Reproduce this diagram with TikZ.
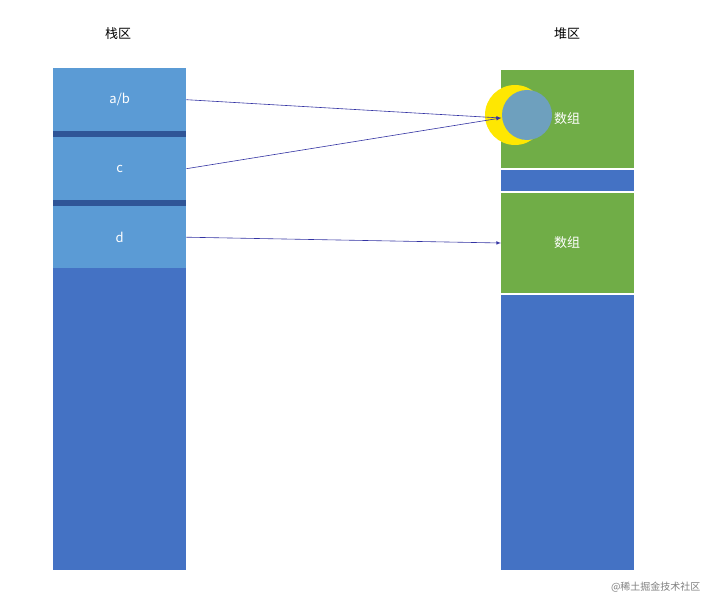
\documentclass[tikz,border=0pt]{standalone}
\usepackage{fontspec}
\setmainfont{Liberation Sans}
\newfontfamily\cjk{Noto Sans CJK SC}
\definecolor{dblue}{RGB}{68,114,196}
\definecolor{sep}{RGB}{47,85,151}
\definecolor{lblue}{RGB}{91,155,213}
\definecolor{gr}{RGB}{112,173,71}
\definecolor{cur}{RGB}{110,160,190}
\begin{document}
\begin{tikzpicture}[x=1pt,y=-1pt,
  cell/.style={fill=#1,draw=none,inner sep=0pt,anchor=north west},
  lbl/.style={text=white,font=\cjk\fontsize{13}{15}\selectfont},
  arr/.style={draw=blue!55!black!80,-latex,line width=0.6pt}]
\useasboundingbox (0,0) rectangle (708,601);
\fill[white] (0,0) rectangle (708,601);
\node[font=\cjk\fontsize{13}{15}\selectfont] (sl) at (118,34) {栈区};
\node[font=\cjk\fontsize{13}{15}\selectfont] (hl) at (567,34) {堆区};
% stack
\fill[dblue] (53,68) rectangle (186,570);
\fill[sep] (53,131) rectangle (186,137);
\fill[sep] (53,200) rectangle (186,206);
\node[cell=lblue,minimum width=133pt,minimum height=63pt] (ab) at (53,68) {};
\node[cell=lblue,minimum width=133pt,minimum height=63pt] (c) at (53,137) {};
\node[cell=lblue,minimum width=133pt,minimum height=62pt] (d) at (53,206) {};
\node[lbl] at (ab.center) {a/b};
\node[lbl] at (c.center) {c};
\node[lbl] at (d.center) {d};
% heap
\fill[dblue] (501,70) rectangle (634,570);
\node[cell=gr,minimum width=133pt,minimum height=98pt] (h1) at (501,70) {};
\fill[white] (501,168) rectangle (634,170);
\fill[white] (501,191) rectangle (634,193);
\node[cell=gr,minimum width=133pt,minimum height=100pt] (h2) at (501,193) {};
\fill[white] (501,293) rectangle (634,295);
\fill[yellow!90!orange] (515,115) circle (30);
\fill[cur] (527,115) circle (25);
\node[lbl] at (567,119) {数组};
\node[lbl] at (567,243) {数组};
\coordinate (t1) at (501,118);
\coordinate (t2) at (501,243);
\draw[arr] (ab.east) -- (t1);
\draw[arr] (c.east) -- (t1);
\draw[arr] (d.east) -- (t2);
\node[text=gray,font=\cjk\fontsize{10}{12}\selectfont,anchor=east] (wm) at (704,587) {@稀土掘金技术社区};
\end{tikzpicture}
\end{document}
